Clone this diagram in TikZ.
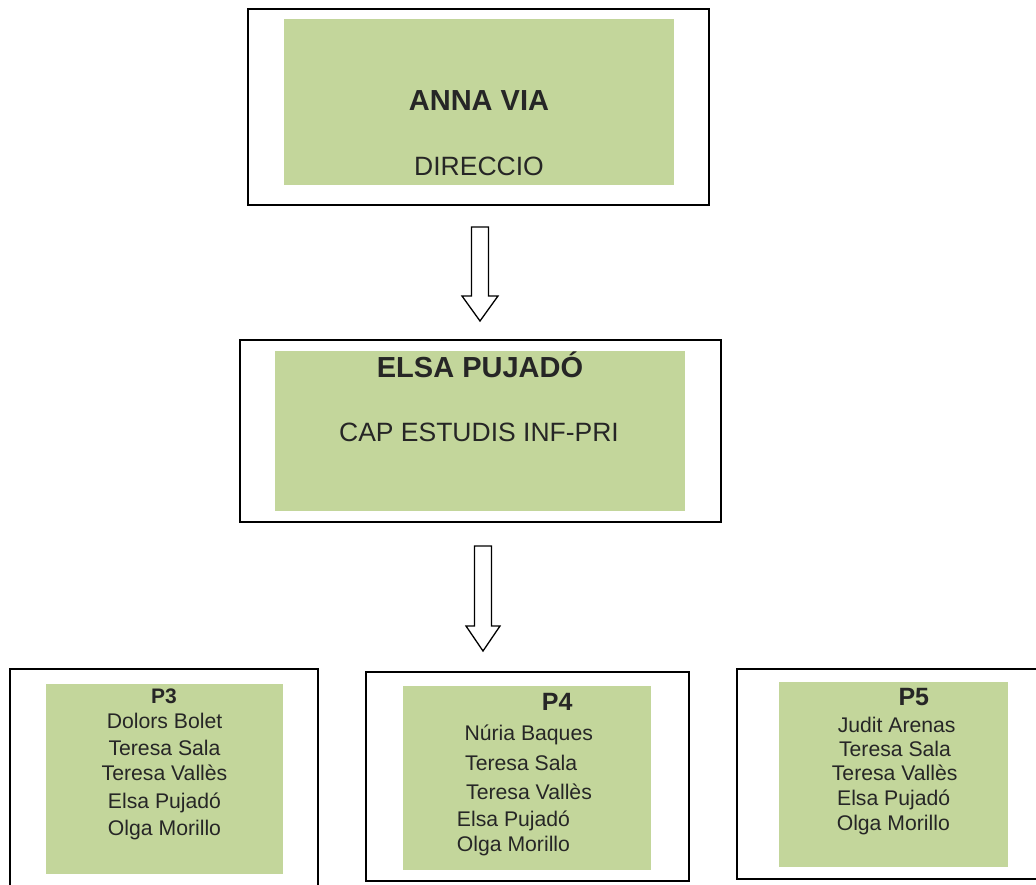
\documentclass[tikz,border=0pt]{standalone}
\usepackage{fontspec}
\setmainfont{Liberation Sans}
\usetikzlibrary{calc}
\definecolor{BoxClr}{HTML}{C3D69B}
\definecolor{TextClr}{HTML}{262626}

\tikzset{
  frame/.style={draw=black,line width=2pt,inner sep=0pt,rectangle},
  panel/.style={fill=BoxClr,inner sep=0pt,rectangle},
  txt/.style={inner sep=0pt,anchor=base,text=TextClr},
  blockarrow/.style={draw=black,line width=1.3pt,fill=white,line join=miter}
}

\begin{document}
\begin{tikzpicture}[x=1pt,y=-1pt]
\useasboundingbox (0,0) rectangle (1036,885);

% director
\node[frame,minimum width=461,minimum height=196] (dirF) at (478.5,107) {};
\node[panel,minimum width=390,minimum height=166] (dirP) at (479,102) {};
\node[txt,font=\fontsize{29}{33}\selectfont\bfseries] (dirN) at (479,111) {ANNA VIA};
\node[txt,font=\fontsize{26.5}{30}\selectfont] (dirR) at (479,175.7) {DIRECCIO};

% cap d'estudis
\node[frame,minimum width=481,minimum height=182] (capF) at (480.5,431) {};
\node[panel,minimum width=410,minimum height=160] (capP) at (480,431) {};
\node[txt,font=\fontsize{29}{33}\selectfont\bfseries] (capN) at (480,377.7) {ELSA PUJADÓ};
\node[txt,font=\fontsize{26.5}{30}\selectfont] (capR) at (479,441) {CAP ESTUDIS INF-PRI};

% block arrows
\coordinate (tipA) at ($(dirF.south)+(1.5,115)$);
\draw[blockarrow] (tipA) -- ++(-18,-25) -- ++(9.5,0) -- ++(0,-69) -- ++(17,0)
  -- ++(0,69) -- ++(9.5,0) -- cycle;
\coordinate (tipB) at ($(capF.south)+(2.5,128)$);
\draw[blockarrow] (tipB) -- ++(-17,-25) -- ++(8.5,0) -- ++(0,-80) -- ++(17,0)
  -- ++(0,80) -- ++(8.5,0) -- cycle;

% courses
\node[frame,minimum width=308,minimum height=225] (p3F) at (164,781.5) {};
\node[panel,minimum width=237,minimum height=190] (p3P) at (164.5,779) {};
\node[frame,minimum width=323,minimum height=209] (p4F) at (527,776.5) {};
\node[panel,minimum width=248,minimum height=184] (p4P) at (527,778) {};
\node[frame,minimum width=303,minimum height=210] (p5F) at (888.5,774) {};
\node[panel,minimum width=229,minimum height=185] (p5P) at (893.5,774.5) {};

\node[txt,font=\fontsize{21}{24}\selectfont\bfseries] (p3T) at (164,703.3) {P3};
\foreach \nm/\yy [count=\i] in {Dolors Bolet/728.3,Teresa Sala/755,Teresa Vallès/780.7,Elsa Pujadó/808.3,Olga Morillo/835}
  \node[txt,font=\fontsize{21.2}{24}\selectfont] (p3L\i) at (164.5,\yy) {\nm};

\node[txt,font=\fontsize{25}{28}\selectfont\bfseries,anchor=base west] (p4T) at (541.7,710) {P4};
\foreach \nm/\xx/\yy [count=\i] in {Núria Baques/464.3/740,Teresa Sala/465/770,Teresa Vallès/466/799.3,Elsa Pujadó/456.7/826.7,Olga Morillo/456.7/851.7}
  \node[txt,font=\fontsize{21.2}{24}\selectfont,anchor=base west] (p4L\i) at (\xx,\yy) {\nm};

\node[txt,font=\fontsize{25}{28}\selectfont\bfseries] (p5T) at (913.8,705) {P5};
\foreach \nm/\xx/\yy [count=\i] in {Judit Arenas/896.7/732.3,Teresa Sala/895/756.7,Teresa Vallès/894.7/780,Elsa Pujadó/893.7/805,Olga Morillo/893.3/830}
  \node[txt,font=\fontsize{21.2}{24}\selectfont] (p5L\i) at (\xx,\yy) {\nm};

\end{tikzpicture}
\end{document}
